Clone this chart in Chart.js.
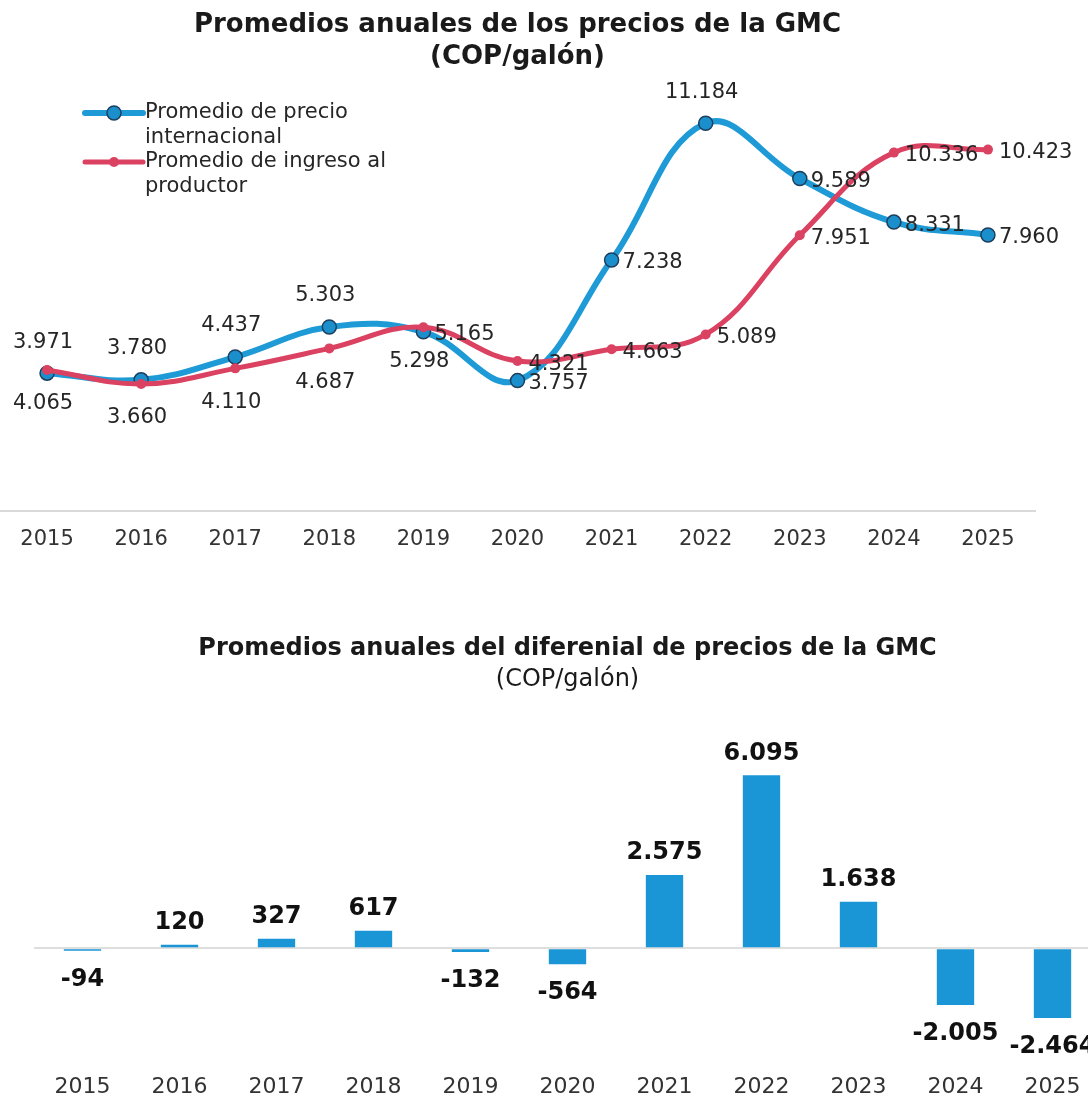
<!DOCTYPE html>
<html>
<head>
<meta charset="utf-8">
<script src="https://cdn.jsdelivr.net/npm/chart.js@4"></script>
<style>
  body { margin: 0; background: #fff; overflow: hidden; width: 1088px; height: 1106px; }
  #topBox { position: absolute; left: 0; top: 0; }
  #bottomBox { position: absolute; left: 0; top: 615px; }
  canvas { display: block; }
</style>
</head>
<body>
<div id="topBox"><canvas id="priceChart" width="1088" height="568"></canvas></div>
<div id="bottomBox"><canvas id="gapChart" width="1101" height="497"></canvas></div>
<script>
const years = ["2015", "2016", "2017", "2018", "2019", "2020", "2021", "2022", "2023", "2024", "2025"];
const intlPrice = [3971, 3780, 4437, 5303, 5165, 3757, 7238, 11184, 9589, 8331, 7960];
const producerPrice = [4065, 3660, 4110, 4687, 5298, 4321, 4663, 5089, 7951, 10336, 10423];
const priceGap = [-94, 120, 327, 617, -132, -564, 2575, 6095, 1638, -2005, -2464];

// where each value label sits next to its point
const intlLabelPos = ["above", "above", "above", "above", "right", "right", "right", "above", "right", "right", "right"];
const producerLabelPos = ["below", "below", "below", "below", "below", "right", "right", "right", "right", "right", "right"];

const BLUE = "#1e9ad6";
const RED = "#db4161";
const TEXT = "#262626";
const FONT = "'DejaVu Sans', Verdana, sans-serif";

Chart.defaults.font.family = FONT;
Chart.defaults.color = TEXT;

function fmt(v) {
  const s = String(Math.abs(v)).replace(/\B(?=(\d{3})+(?!\d))/g, ".");
  return (v < 0 ? "-" : "") + s;
}

const lineLabels = {
  id: "lineLabels",
  afterDatasetsDraw(chart) {
    const ctx = chart.ctx;
    ctx.save();
    ctx.font = "21px " + FONT;
    ctx.fillStyle = TEXT;
    ctx.textBaseline = "middle";
    chart.data.datasets.forEach((ds, i) => {
      const meta = chart.getDatasetMeta(i);
      meta.data.forEach((pt, j) => {
        const pos = ds.labelPos[j];
        const txt = fmt(ds.data[j]);
        if (pos === "above") {
          ctx.textAlign = "center";
          ctx.fillText(txt, pt.x - 4, pt.y - 31);
        } else if (pos === "below") {
          ctx.textAlign = "center";
          ctx.fillText(txt, pt.x - 4, pt.y + 34);
        } else {
          ctx.textAlign = "left";
          ctx.fillText(txt, pt.x + 11, pt.y + 3);
        }
      });
    });
    ctx.restore();
  },
};

const innerLegend = {
  id: "innerLegend",
  afterDraw(chart) {
    const ctx = chart.ctx;
    const x0 = chart.chartArea.left + 85;
    const y0 = 113;
    ctx.save();
    ctx.font = "21px " + FONT;
    ctx.textAlign = "left";
    ctx.textBaseline = "middle";
    const items = [
      { ds: chart.data.datasets[1], y: y0 },
      { ds: chart.data.datasets[0], y: y0 + 49 },
    ];
    items.forEach((it) => {
      const ds = it.ds;
      ctx.strokeStyle = ds.borderColor;
      ctx.lineWidth = ds.borderWidth;
      ctx.lineCap = "round";
      ctx.beginPath();
      ctx.moveTo(x0, it.y);
      ctx.lineTo(x0 + 58, it.y);
      ctx.stroke();
      ctx.beginPath();
      ctx.arc(x0 + 29, it.y, ds.pointRadius, 0, Math.PI * 2);
      ctx.fillStyle = ds.pointBackgroundColor;
      ctx.fill();
      if (ds.pointBorderWidth) {
        ctx.lineWidth = ds.pointBorderWidth;
        ctx.strokeStyle = ds.pointBorderColor;
        ctx.stroke();
      }
      ctx.fillStyle = TEXT;
      ds.legendLines.forEach((line, k) => {
        ctx.fillText(line, x0 + 60, it.y + k * 24.5);
      });
    });
    ctx.restore();
  },
};

new Chart(document.getElementById("priceChart"), {
  type: "line",
  data: {
    labels: years,
    datasets: [
      {
        label: "Promedio de ingreso al productor",
        legendLines: ["Promedio de ingreso al", "productor"],
        data: producerPrice,
        labelPos: producerLabelPos,
        borderColor: RED,
        borderWidth: 5,
        pointRadius: 5,
        pointBackgroundColor: RED,
        pointBorderColor: RED,
        pointBorderWidth: 0,
        tension: 0.4,
        order: 1,
      },
      {
        label: "Promedio de precio internacional",
        legendLines: ["Promedio de precio", "internacional"],
        data: intlPrice,
        labelPos: intlLabelPos,
        borderColor: BLUE,
        borderWidth: 6,
        pointRadius: 7,
        pointBackgroundColor: "#1b8fcc",
        pointBorderColor: "#1d3f5e",
        pointBorderWidth: 1.5,
        tension: 0.4,
        order: 2,
      },
    ],
  },
  options: {
    responsive: false,
    animation: false,
    layout: { autoPadding: false, padding: { left: 0, right: 53, top: 0, bottom: 0 } },
    plugins: {
      legend: { display: false },
      tooltip: { enabled: false },
      title: {
        display: true,
        text: ["Promedios anuales de los precios de la GMC", "(COP/galón)"],
        font: { size: 26, weight: "bold", lineHeight: 1.23 },
        color: "#1a1a1a",
        padding: { top: 9, bottom: 22 },
      },
    },
    scales: {
      x: {
        offset: true,
        grid: { display: false, drawTicks: false },
        border: { display: true, color: "#d9d9d9", width: 2 },
        ticks: { font: { size: 21 }, color: "#333", padding: 16 },
      },
      y: {
        display: false,
        min: 0,
        max: 12000,
      },
    },
  },
  plugins: [lineLabels, innerLegend],
});

const barLabels = {
  id: "barLabels",
  afterDatasetsDraw(chart) {
    const ctx = chart.ctx;
    const meta = chart.getDatasetMeta(0);
    const data = chart.data.datasets[0].data;
    ctx.save();
    ctx.font = "bold 24px " + FONT;
    ctx.fillStyle = "#111";
    ctx.textAlign = "center";
    meta.data.forEach((bar, j) => {
      const v = data[j];
      if (v >= 0) {
        ctx.textBaseline = "bottom";
        ctx.fillText(fmt(v), bar.x, bar.y - 10);
      } else {
        ctx.textBaseline = "top";
        ctx.fillText(fmt(v), bar.x, bar.y + 17);
      }
    });
    ctx.restore();
  },
};

new Chart(document.getElementById("gapChart"), {
  type: "bar",
  data: {
    labels: years,
    datasets: [
      {
        label: "Diferencial",
        data: priceGap,
        backgroundColor: "#1a95d5",
        barPercentage: 0.385,
        categoryPercentage: 1,
      },
    ],
  },
  options: {
    responsive: false,
    animation: false,
    layout: { autoPadding: false, padding: { left: 34, right: 0, top: 0, bottom: 0 } },
    plugins: {
      legend: { display: false },
      tooltip: { enabled: false },
      title: {
        display: true,
        text: "Promedios anuales del diferenial de precios de la GMC",
        font: { size: 24, weight: "bold", lineHeight: 1.2 },
        color: "#1a1a1a",
        padding: { top: 19, bottom: 3 },
      },
      subtitle: {
        display: true,
        text: "(COP/galón)",
        font: { size: 24, weight: "normal", lineHeight: 1.2 },
        color: "#1a1a1a",
        padding: { top: 0, bottom: 55 },
      },
    },
    scales: {
      x: {
        grid: { display: false, drawTicks: false },
        border: { display: false },
        ticks: { font: { size: 22 }, color: "#333", padding: 12 },
      },
      y: {
        min: -4000,
        max: 7000,
        ticks: { display: false },
        border: { display: false },
        grid: {
          drawTicks: false,
          lineWidth: 2,
          color: (c) => (c.tick && c.tick.value === 0 ? "#dedede" : "rgba(0,0,0,0)"),
        },
      },
    },
  },
  plugins: [barLabels],
});
</script>
</body>
</html>
